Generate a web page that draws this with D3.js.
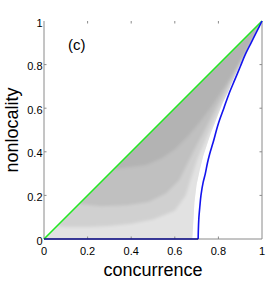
<!DOCTYPE html>
<html>
<head>
<meta charset="utf-8">
<script src="https://cdn.jsdelivr.net/npm/d3@7"></script>
<style>
  body { margin:0; background:white; }
  text { font-family:"Liberation Sans", Arial, sans-serif; fill:black; }
</style>
</head>
<body>
<div id="chart"></div>
<script>
var w=273, h=282;
var pad={top:21, bottom:43, left:44, right:10};

//Tick values and labels (same on both axes)
var tickValues=[0,0.2,0.4,0.6,0.8,1];
var tickLabels=["0","0.2","0.4","0.6","0.8","1"];

var cloudSparse=[[0,0],[1,1],[0.975,0.955],[0.948,0.9],[0.92,0.845],[0.895,0.79],[0.87,0.735],
                 [0.845,0.675],[0.82,0.625],[0.8,0.575],[0.785,0.535],[0.765,0.485],[0.75,0.44],
                 [0.73,0.38],[0.715,0.32],[0.70,0.25],[0.69,0.17],[0.685,0.08],[0.68,0]];
var cloudMedium=[[0.06,0.06],[1,1],[0.975,0.955],[0.945,0.895],[0.915,0.835],[0.885,0.77],[0.855,0.705],
                 [0.825,0.64],[0.795,0.575],[0.765,0.51],[0.735,0.44],[0.705,0.37],[0.675,0.28],[0.65,0.2],
                 [0.6,0.13],[0.5,0.09],[0.4,0.07],[0.3,0.06],[0.2,0.055],[0.1,0.055]];
var cloudDense=[[0.16,0.16],[1,1],[0.97,0.945],[0.93,0.865],[0.89,0.79],[0.85,0.715],[0.81,0.64],
                [0.77,0.565],[0.73,0.485],[0.69,0.41],[0.65,0.33],[0.62,0.27],[0.56,0.21],[0.48,0.17],
                [0.38,0.155],[0.26,0.15]];
var cloudSolid=[[0.32,0.32],[1,1],[0.97,0.94],[0.94,0.88],[0.9,0.81],[0.85,0.73],[0.8,0.655],[0.76,0.595],
                [0.71,0.53],[0.66,0.47],[0.6,0.41],[0.54,0.37],[0.47,0.34],[0.40,0.33]];

//Upper bound (green): nonlocality = concurrence
var greenC=[0,1];
var greenN=[0,1];

//Lower bound (blue)
var blueC=[0.7071,0.708,0.71,0.715,0.72,0.73,0.74,0.75,0.76,0.775,0.8,0.825,0.85,0.875,0.9,0.925,0.95,0.975,1];
var blueN=[0,0.04,0.09,0.15,0.2,0.26,0.3,0.35,0.39,0.44,0.53,0.6,0.67,0.73,0.79,0.85,0.9,0.95,1];
//Blue segment lying on the concurrence axis
var baseC=[0,0.7071];
var baseN=[0,0];

var svg=d3.select("#chart")
          .append("svg")
          .attr("width",w)
          .attr("height",h);

var xScale=d3.scaleLinear().domain([0,1]).range([pad.left,w-pad.right-1]);
var yScale=d3.scaleLinear().domain([0,1]).range([h-pad.bottom,pad.top]);

var line=d3.line()
           .x(function(d) {return xScale(d[0]);})
           .y(function(d) {return yScale(d[1]);});

//Blur to soften contour steps, clipped to the outer contour
var defs=svg.append("defs");
defs.append("filter")
    .attr("id","soft")
    .attr("x","-10%").attr("y","-10%").attr("width","120%").attr("height","120%")
    .append("feGaussianBlur")
    .attr("stdDeviation",1.6);
defs.append("clipPath")
    .attr("id","cloudClip")
    .append("path")
    .attr("d",line(cloudSparse)+"Z");

//Draw cloud, lightest contour first
var cloudLayers=[[cloudSparse,"#e2e2e2"],[cloudMedium,"#d0d0d0"],[cloudDense,"#c0c0c0"],[cloudSolid,"#b3b3b3"]];
var cloud=svg.append("g").attr("class","cloud");
cloud.append("path")
     .attr("d",line(cloudSparse)+"Z")
     .attr("fill",cloudLayers[0][1]);
var soft=cloud.append("g")
              .attr("clip-path","url(#cloudClip)")
              .append("g")
              .attr("filter","url(#soft)");
cloudLayers.forEach(function(layer) {
    //mirrored copy across the green line keeps the blur from fading at that edge
    var mirrored=layer[0].map(function(p) {return [p[1],p[0]];});
    soft.append("path").attr("d",line(layer[0])+"Z").attr("fill",layer[1]);
    soft.append("path").attr("d",line(mirrored)+"Z").attr("fill",layer[1]);
});

//Axes box (no top edge in the picture)
var axisColor="#8a8a8a";
svg.append("line")
   .attr("x1",xScale(0)).attr("x2",xScale(0))
   .attr("y1",yScale(0)).attr("y2",yScale(1))
   .attr("stroke",axisColor);
svg.append("line")
   .attr("x1",xScale(1)).attr("x2",xScale(1))
   .attr("y1",yScale(0)).attr("y2",yScale(1))
   .attr("stroke",axisColor);
svg.append("line")
   .attr("x1",xScale(0)).attr("x2",xScale(1))
   .attr("y1",yScale(0)).attr("y2",yScale(0))
   .attr("stroke",axisColor);

//Inward ticks on all sides
var inner=tickValues.slice(1,-1);
var ticks=svg.append("g").attr("class","ticks").attr("stroke",axisColor);
inner.forEach(function(v) {
    ticks.append("line").attr("x1",xScale(0)).attr("x2",xScale(0)+2.5).attr("y1",yScale(v)).attr("y2",yScale(v));
    ticks.append("line").attr("x1",xScale(1)).attr("x2",xScale(1)-2.5).attr("y1",yScale(v)).attr("y2",yScale(v));
    ticks.append("line").attr("x1",xScale(v)).attr("x2",xScale(v)).attr("y1",yScale(0)).attr("y2",yScale(0)-2.5);
    ticks.append("line").attr("x1",xScale(v)).attr("x2",xScale(v)).attr("y1",yScale(1)).attr("y2",yScale(1)+2.5);
});

//Bound lines
var toPairs=function(cs,ns) {return cs.map(function(c,i) {return [c,ns[i]];});};
svg.append("path")
   .attr("d",line(toPairs(greenC,greenN)))
   .attr("fill","none")
   .attr("stroke","#22e822")
   .attr("stroke-width",1.6);
svg.append("path")
   .attr("d",line.curve(d3.curveMonotoneY)(toPairs(blueC,blueN)))
   .attr("fill","none")
   .attr("stroke","#1414ee")
   .attr("stroke-width",1.6);
line.curve(d3.curveLinear);
svg.append("path")
   .attr("d",line(toPairs(baseC,baseN)))
   .attr("fill","none")
   .attr("stroke","#0c0c8a")
   .attr("stroke-width",1.6);

//Tick labels
svg.append("g")
   .selectAll("text")
   .data(tickValues)
   .enter()
   .append("text")
   .attr("x",xScale(0)-1.5)
   .attr("y",function(d) {return yScale(d)+1.5;})
   .attr("text-anchor","end")
   .attr("dominant-baseline","central")
   .attr("font-size","11px")
   .text(function(d,i) {return tickLabels[i];});
svg.append("g")
   .selectAll("text")
   .data(tickValues)
   .enter()
   .append("text")
   .attr("x",function(d) {return xScale(d);})
   .attr("y",251)
   .attr("text-anchor","middle")
   .attr("dominant-baseline","central")
   .attr("font-size","11px")
   .text(function(d,i) {return tickLabels[i];});

//Axis titles and panel label
svg.append("text")
   .attr("x",(xScale(0)+xScale(1))/2)
   .attr("y",276)
   .attr("text-anchor","middle")
   .attr("font-size","18px")
   .text("concurrence");
svg.append("text")
   .attr("transform","translate(17.5,"+(yScale(0.5))+")rotate(-90)")
   .attr("text-anchor","middle")
   .attr("font-size","18px")
   .text("nonlocality");
svg.append("text")
   .attr("x",68)
   .attr("y",50)
   .attr("font-size","15px")
   .text("(c)");
</script>
</body>
</html>
